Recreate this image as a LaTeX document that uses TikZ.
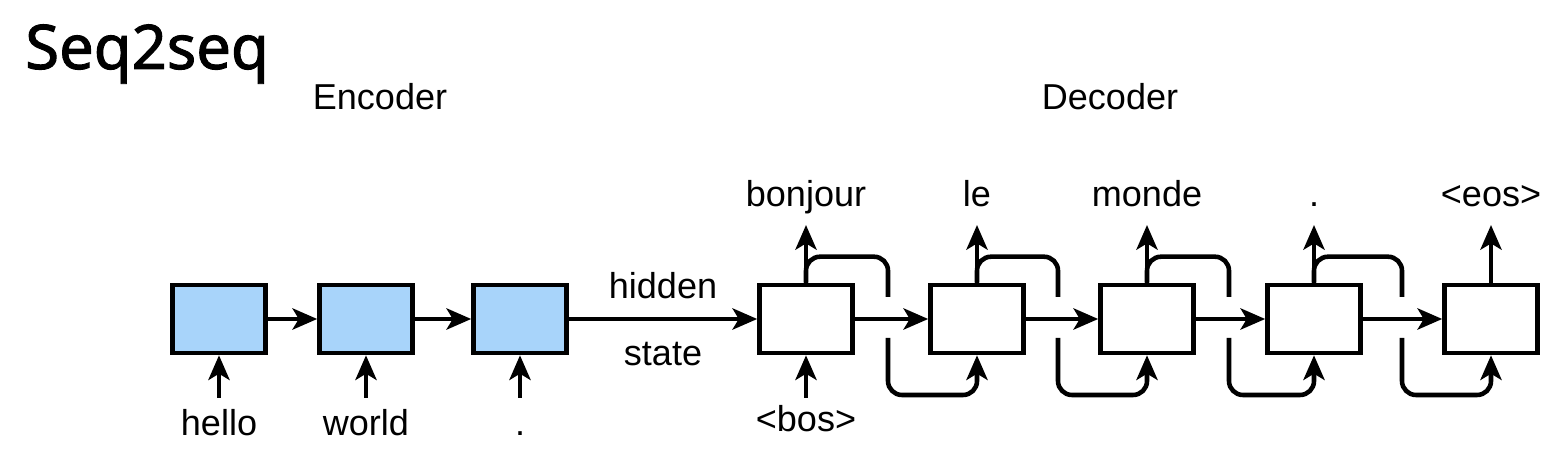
\documentclass[tikz,border=0pt]{standalone}
\usepackage{fontspec}
\setmainfont{Liberation Sans}
\newfontfamily\titlefont{Noto Sans}[FakeBold=1.6]
\usetikzlibrary{positioning,arrows.meta}
\definecolor{encblue}{RGB}{168,212,250}

\begin{document}
\begin{tikzpicture}[every node/.style={font=\fontsize{20.5}{24}\selectfont}]
  \tikzset{
    cell/.style={draw, line width=2.6pt, minimum width=1.86cm, minimum height=1.36cm, inner sep=0pt},
    conn/.style={line width=2.6pt, -{Stealth[length=14pt, width=12pt, inset=3.5pt]}},
    loopline/.style={line width=2.6pt, rounded corners=0.28cm},
    word/.style={anchor=base, inner sep=0pt}
  }
  \useasboundingbox (0,0) rectangle (31.14,9.04);

  % Titles
  \node[anchor=base west, inner sep=0pt, font=\titlefont\fontsize{35}{40}\selectfont] (title) at (0.5,7.66) {Seq2seq};
  \node[word] (enctitle) at (7.6,6.84) {Encoder};
  \node[word] (dectitle) at (22.2,6.84) {Decoder};

  % Encoder cells
  \node[cell, fill=encblue] (e1) at (4.38,2.66) {};
  \node[cell, fill=encblue] (e2) at (7.32,2.66) {};
  \node[cell, fill=encblue] (e3) at (10.40,2.66) {};

  % Decoder cells
  \node[cell] (d1) at (16.12,2.66) {};
  \node[cell] (d2) at (19.54,2.66) {};
  \node[cell] (d3) at (22.94,2.66) {};
  \node[cell] (d4) at (26.28,2.66) {};
  \node[cell] (d5) at (29.82,2.66) {};

  % Input words
  \node[word] (x1) at (4.38,0.32) {hello};
  \node[word] (x2) at (7.32,0.32) {world};
  \node[word] (x3) at (10.40,0.32) {.};
  \node[word] (x4) at (16.12,0.40) {<bos>};
  \coordinate (i1) at (4.38,1.08);
  \coordinate (i2) at (7.32,1.08);
  \coordinate (i3) at (10.40,1.08);
  \coordinate (i4) at (16.12,1.08);

  % Output words
  \node[word] (y1) at (16.12,4.9) {bonjour};
  \node[word] (y2) at (19.54,4.9) {le};
  \node[word] (y3) at (22.94,4.9) {monde};
  \node[word] (y4) at (26.28,4.9) {.};
  \node[word] (y5) at (29.82,4.9) {<eos>};
  \coordinate (o1) at (16.12,4.54);
  \coordinate (o2) at (19.54,4.54);
  \coordinate (o3) at (22.94,4.54);
  \coordinate (o4) at (26.28,4.54);
  \coordinate (o5) at (29.82,4.54);

  % Inputs and outputs
  \draw[conn] (i1) -- (e1.south);
  \draw[conn] (i2) -- (e2.south);
  \draw[conn] (i3) -- (e3.south);
  \draw[conn] (i4) -- (d1.south);
  \draw[conn] (d1.north) -- (o1);
  \draw[conn] (d2.north) -- (o2);
  \draw[conn] (d3.north) -- (o3);
  \draw[conn] (d4.north) -- (o4);
  \draw[conn] (d5.north) -- (o5);

  % Recurrent links
  \draw[conn] (e1) -- (e2);
  \draw[conn] (e2) -- (e3);
  \draw[conn] (e3) -- (d1) node[midway, above=0.35cm, word, anchor=south] (hid) {hidden}
                           node[midway, below=0.42cm, word, anchor=north] (st) {state};
  \draw[conn] (d1) -- (d2);
  \draw[conn] (d2) -- (d3);
  \draw[conn] (d3) -- (d4);
  \draw[conn] (d4) -- (d5);

  % Feedback of the previous output
  \coordinate (g1a) at (17.76,3.10); \coordinate (g1b) at (17.76,2.28);
  \coordinate (g2a) at (21.16,3.10); \coordinate (g2b) at (21.16,2.28);
  \coordinate (g3a) at (24.58,3.10); \coordinate (g3b) at (24.58,2.28);
  \coordinate (g4a) at (28.04,3.10); \coordinate (g4b) at (28.04,2.28);

  \draw[loopline] (d1.north) -- ++(0,0.52) -| (g1a);
  \draw[loopline, conn] (g1b) -- ++(0,-1.14) -| (d2.south);
  \draw[loopline] (d2.north) -- ++(0,0.52) -| (g2a);
  \draw[loopline, conn] (g2b) -- ++(0,-1.14) -| (d3.south);
  \draw[loopline] (d3.north) -- ++(0,0.52) -| (g3a);
  \draw[loopline, conn] (g3b) -- ++(0,-1.14) -| (d4.south);
  \draw[loopline] (d4.north) -- ++(0,0.52) -| (g4a);
  \draw[loopline, conn] (g4b) -- ++(0,-1.14) -| (d5.south);
\end{tikzpicture}
\end{document}
